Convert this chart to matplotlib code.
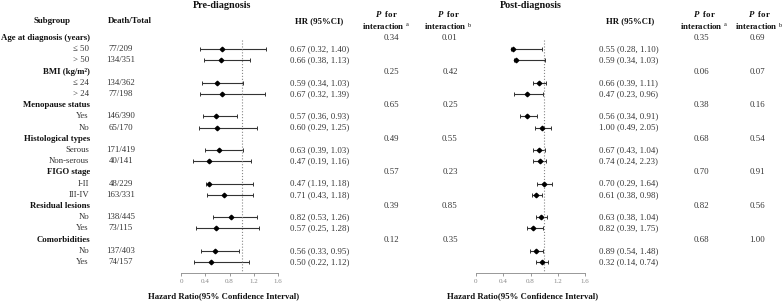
import numpy as np
import matplotlib
matplotlib.use("Agg")
import matplotlib.pyplot as plt

plt.rcParams["font.family"] = ["Liberation Serif", "DejaVu Serif"]
plt.rcParams["mathtext.fontset"] = "custom"
plt.rcParams["mathtext.rm"] = "Liberation Serif"
plt.rcParams["mathtext.it"] = "Liberation Serif:italic:bold"
plt.rcParams["mathtext.bf"] = "Liberation Serif:bold"

# ---- data ----
groups = ["Age at diagnosis (years)", "BMI (kg/m²)", "Menopause status",
          "Histological types", "FIGO stage", "Residual lesions", "Comorbidities"]
subgroups = [["≤ 50", "> 50"], ["≤ 24", "> 24"], ["Yes", "No"],
             ["Serous", "Non-serous"], ["I-II", "III-IV"], ["No", "Yes"], ["No", "Yes"]]
death_total = ["77/209", "134/351", "134/362", "77/198", "146/390", "65/170",
               "171/419", "40/141", "48/229", "163/331", "138/445", "73/115",
               "137/403", "74/157"]

# HR (95%CI) as printed in the table
pre_hr = [0.67, 0.66, 0.59, 0.67, 0.57, 0.60, 0.63, 0.47, 0.47, 0.71, 0.82, 0.57, 0.56, 0.50]
pre_lo = [0.32, 0.38, 0.34, 0.32, 0.36, 0.29, 0.39, 0.19, 1.19, 0.43, 0.53, 0.25, 0.33, 0.22]
pre_hi = [1.40, 1.13, 1.03, 1.39, 0.93, 1.25, 1.03, 1.16, 1.18, 1.18, 1.26, 1.28, 0.95, 1.12]
post_hr = [0.55, 0.59, 0.66, 0.47, 0.56, 1.00, 0.67, 0.74, 0.70, 0.61, 0.63, 0.82, 0.89, 0.32]
post_lo = [0.28, 0.34, 0.39, 0.23, 0.34, 0.49, 0.43, 0.24, 0.29, 0.38, 0.38, 0.39, 0.54, 0.14]
post_hi = [1.10, 1.03, 1.11, 0.96, 0.91, 2.05, 1.04, 2.23, 1.64, 0.98, 1.04, 1.75, 1.48, 0.74]

# estimates as drawn in the forest plots
pre_plot_hr = pre_hr
pre_plot_lo = [0.32, 0.38, 0.34, 0.32, 0.36, 0.29, 0.39, 0.19, 0.42, 0.43, 0.53, 0.25, 0.33, 0.22]
pre_plot_hi = pre_hi
post_plot_hr = [0.55, 0.59, 0.93, 0.75, 0.75, 0.97, 0.92, 0.94, 1.00, 0.88, 0.96, 0.84, 0.88, 0.97]
post_plot_lo = [0.52, 0.56, 0.84, 0.56, 0.65, 0.86, 0.83, 0.84, 0.89, 0.82, 0.88, 0.75, 0.79, 0.88]
post_plot_hi = [0.97, 1.01, 1.03, 0.99, 0.89, 1.10, 1.01, 1.03, 1.12, 0.97, 1.04, 0.98, 0.99, 1.06]

pre_pa = ["0.34", "0.25", "0.65", "0.49", "0.57", "0.39", "0.12"]
pre_pb = ["0.01", "0.42", "0.25", "0.55", "0.23", "0.85", "0.35"]
post_pa = ["0.35", "0.06", "0.38", "0.68", "0.70", "0.82", "0.68"]
post_pb = ["0.69", "0.07", "0.16", "0.54", "0.91", "0.56", "1.00"]

xticks = [0, 0.4, 0.8, 1.2, 1.6]

# ---- layout (pixel coordinates) ----
W, H = 784, 302
fs = 6.3
row0, dy = 38, 11.2


def ypx(r):
    return row0 + dy * r


fig = plt.figure(figsize=(W / 100, H / 100), dpi=100)
bg = fig.add_axes([0, 0, 1, 1])
bg.set_xlim(0, W)
bg.set_ylim(H, 0)
bg.axis("off")


def txt(x, y, s, ha="center", bold=False, size=fs, color="#111111"):
    bg.text(x, y, s, ha=ha, va="center", fontsize=size,
            fontweight="bold" if bold else "normal", color=color)


# headers
txt(222, 6, "Pre-diagnosis", bold=True, size=7.3)
txt(531, 6, "Post-diagnosis", bold=True, size=7.3)
txt(52, 21, "Subgroup", bold=True)
txt(130, 21, "Death/Total", bold=True)
for cx in (319, 630):
    txt(cx, 21, "HR (95%CI)", bold=True)
for cx, sup in ((386, "a"), (448, "b"), (704, "a"), (759, "b")):
    txt(cx, 14, "$P$  for", bold=True)
    txt(cx, 26, "interaction $^{\\rm " + sup + "}$", bold=True)

# table body
rows = []
k = 0
for g, name in enumerate(groups):
    hrow = g * 3
    txt(90, ypx(hrow), name, ha="right", bold=True)
    txt(391, ypx(hrow), pre_pa[g], color="#333333")
    txt(450, ypx(hrow), pre_pb[g], color="#333333")
    txt(701, ypx(hrow), post_pa[g], color="#333333")
    txt(757, ypx(hrow), post_pb[g], color="#333333")
    for j, sub in enumerate(subgroups[g]):
        r = hrow + 1 + j
        rows.append(r)
        txt(89, ypx(r), sub, ha="right", color="#333333")
        txt(121, ypx(r), death_total[k], color="#333333")
        txt(290, ypx(r), f"{pre_hr[k]:.2f} ({pre_lo[k]:.2f}, {pre_hi[k]:.2f})",
            ha="left", color="#333333")
        txt(599, ypx(r), f"{post_hr[k]:.2f} ({post_lo[k]:.2f}, {post_hi[k]:.2f})",
            ha="left", color="#333333")
        k += 1

rows = np.array(rows)

# forest plots
top_px, bot_px = 30, 273
ylo = (bot_px - row0) / dy
yhi = (top_px - row0) / dy


def forest(x0, x1, hr, lo, hi, label_cx):
    ax = fig.add_axes([x0 / W, (H - bot_px) / H, (x1 - x0) / W, (bot_px - top_px) / H])
    hr, lo, hi = np.array(hr), np.array(lo), np.array(hi)
    ax.errorbar(hr, rows, xerr=[hr - lo, hi - hr], fmt="D", color="black",
                ecolor="#333333", elinewidth=0.8, capsize=1.6, capthick=0.7, ms=2.3)
    ax.vlines(1, 0.2, ylo, colors="#888888", linestyles=":", linewidth=0.8)
    ax.set_xlim(0, 1.6)
    ax.set_ylim(ylo, yhi)
    ax.set_xticks(xticks)
    ax.set_xticklabels(["0" if t == 0 else f"{t:.1f}" for t in xticks])
    ax.tick_params(axis="x", labelsize=5, colors="#888888", length=2, width=0.6, pad=2)
    ax.set_yticks([])
    for s in ("top", "left", "right"):
        ax.spines[s].set_visible(False)
    ax.spines["bottom"].set_color("#888888")
    ax.spines["bottom"].set_linewidth(0.6)
    ax.patch.set_alpha(0)
    txt(label_cx, 296, "Hazard Ratio(95% Confidence Interval)", bold=True)
    return ax


forest(181, 278, pre_plot_hr, pre_plot_lo, pre_plot_hi, 224)
forest(476, 585, post_plot_hr, post_plot_lo, post_plot_hi, 523)

fig.savefig("out.png", dpi=100)
